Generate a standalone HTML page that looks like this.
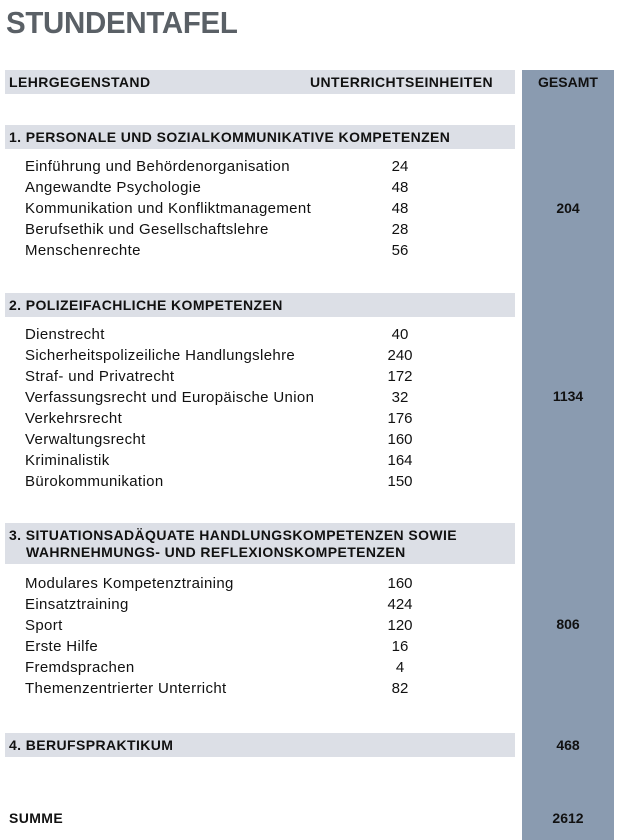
<!DOCTYPE html>
<html><head><meta charset="utf-8"><style>
body{margin:0;width:622px;height:840px;background:#fff;position:relative;overflow:hidden;font-family:"Liberation Sans",sans-serif;color:#111}
.a{position:absolute;white-space:nowrap}
.bar{position:absolute;left:5px;width:510px;background:#dcdfe6}
.g{position:absolute;left:522px;top:70px;width:92px;height:770px;background:#8a9bb0}
.h{font-weight:bold;font-size:14px;letter-spacing:0.4px}
.i{font-size:15px;left:25px;letter-spacing:0.35px}
.n{font-size:15px;left:370px;width:60px;text-align:center}
.t{font-weight:bold;font-size:14px;left:522px;width:92px;text-align:center}
</style></head><body>
<div class="a" style="left:6px;top:5px;font-size:31px;font-weight:bold;color:#5a6066;letter-spacing:-0.3px;transform:scaleX(0.95);transform-origin:left">STUNDENTAFEL</div>
<div class="g"></div>
<div class="bar" style="top:70px;height:24px"></div>
<div class="a h" style="left:9px;top:74px">LEHRGEGENSTAND</div>
<div class="a h" style="left:310px;top:74px">UNTERRICHTSEINHEITEN</div>
<div class="a t" style="top:74px">GESAMT</div>

<div class="bar" style="top:125px;height:24px"></div>
<div class="a h" style="left:9px;top:129px">1. PERSONALE UND SOZIALKOMMUNIKATIVE KOMPETENZEN</div>
<div class="a i" style="top:158px">Einführung und Behördenorganisation</div><div class="a n" style="top:158px">24</div>
<div class="a i" style="top:179px">Angewandte Psychologie</div><div class="a n" style="top:179px">48</div>
<div class="a i" style="top:200px">Kommunikation und Konfliktmanagement</div><div class="a n" style="top:200px">48</div>
<div class="a i" style="top:221px">Berufsethik und Gesellschaftslehre</div><div class="a n" style="top:221px">28</div>
<div class="a i" style="top:242px">Menschenrechte</div><div class="a n" style="top:242px">56</div>
<div class="a t" style="top:200px">204</div>

<div class="bar" style="top:293px;height:24px"></div>
<div class="a h" style="left:9px;top:297px">2. POLIZEIFACHLICHE KOMPETENZEN</div>
<div class="a i" style="top:326px">Dienstrecht</div><div class="a n" style="top:326px">40</div>
<div class="a i" style="top:347px">Sicherheitspolizeiliche Handlungslehre</div><div class="a n" style="top:347px">240</div>
<div class="a i" style="top:368px">Straf- und Privatrecht</div><div class="a n" style="top:368px">172</div>
<div class="a i" style="top:389px">Verfassungsrecht und Europäische Union</div><div class="a n" style="top:389px">32</div>
<div class="a i" style="top:410px">Verkehrsrecht</div><div class="a n" style="top:410px">176</div>
<div class="a i" style="top:431px">Verwaltungsrecht</div><div class="a n" style="top:431px">160</div>
<div class="a i" style="top:452px">Kriminalistik</div><div class="a n" style="top:452px">164</div>
<div class="a i" style="top:473px">Bürokommunikation</div><div class="a n" style="top:473px">150</div>
<div class="a t" style="top:388px">1134</div>

<div class="bar" style="top:523px;height:41px"></div>
<div class="a h" style="left:9px;top:527px">3. SITUATIONSADÄQUATE HANDLUNGSKOMPETENZEN SOWIE</div>
<div class="a h" style="left:26px;top:544px">WAHRNEHMUNGS- UND REFLEXIONSKOMPETENZEN</div>
<div class="a i" style="top:575px">Modulares Kompetenztraining</div><div class="a n" style="top:575px">160</div>
<div class="a i" style="top:596px">Einsatztraining</div><div class="a n" style="top:596px">424</div>
<div class="a i" style="top:617px">Sport</div><div class="a n" style="top:617px">120</div>
<div class="a i" style="top:638px">Erste Hilfe</div><div class="a n" style="top:638px">16</div>
<div class="a i" style="top:659px">Fremdsprachen</div><div class="a n" style="top:659px">4</div>
<div class="a i" style="top:680px">Themenzentrierter Unterricht</div><div class="a n" style="top:680px">82</div>
<div class="a t" style="top:616px">806</div>

<div class="bar" style="top:733px;height:24px"></div>
<div class="a h" style="left:9px;top:737px">4. BERUFSPRAKTIKUM</div>
<div class="a t" style="top:737px">468</div>

<div class="a h" style="left:9px;top:810px">SUMME</div>
<div class="a t" style="top:810px">2612</div>
</body></html>
